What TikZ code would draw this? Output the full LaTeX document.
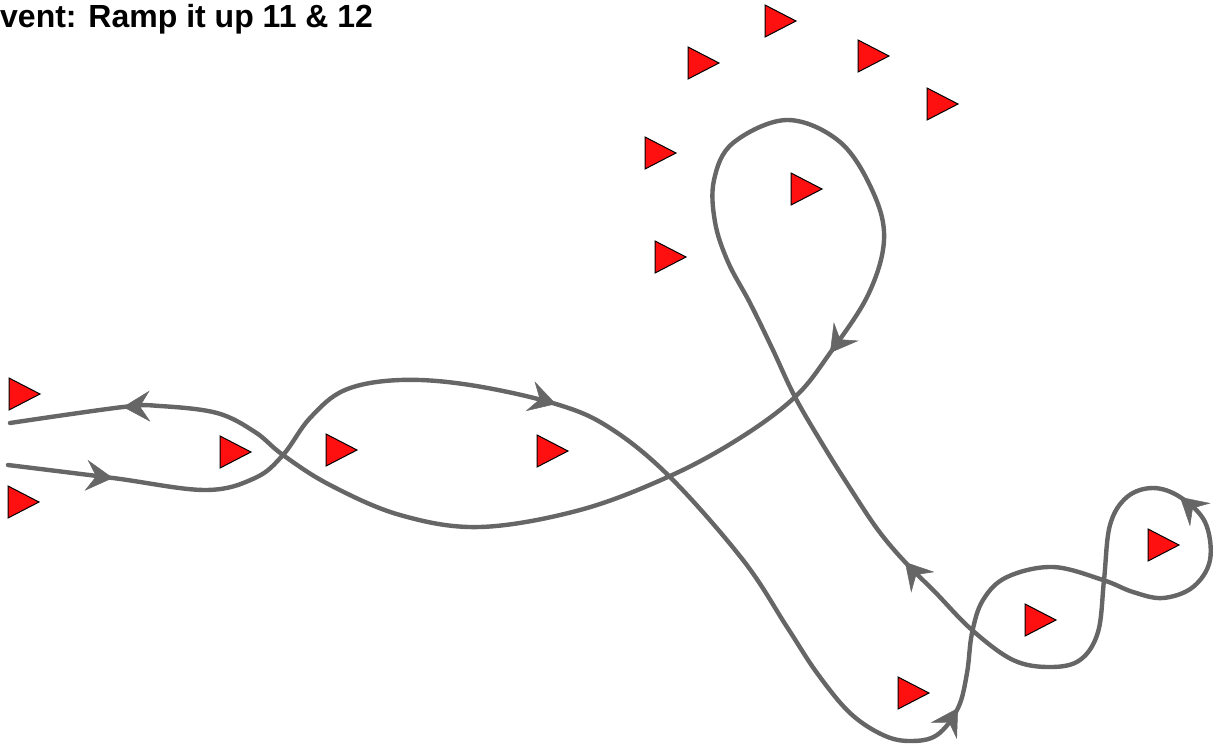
\documentclass[tikz,border=0pt]{standalone}
\usepackage{fontspec}
\setmainfont{Liberation Sans}
\usetikzlibrary{arrows.meta,calc}
\definecolor{route}{HTML}{666666}
\definecolor{flag}{HTML}{FF1010}
\begin{document}
\begin{tikzpicture}[x=1pt,y=-1pt,
  routeline/.style={draw=route,line width=4.4pt,line cap=round,line join=round},
  arrowtip/.style={draw=route,line width=4.4pt,-{Stealth[length=27pt,width=31pt,inset=10pt,line width=0.5pt,fill=route]}},
  marker/.pic={\draw[fill=flag,draw=black,line width=1pt] (0,-16)--(31,0)--(0,16)--cycle;},
  titletext/.style={anchor=base west,inner sep=0pt,font=\bfseries\fontsize{32}{38}\selectfont}
]
\useasboundingbox (0,0) rectangle (1214,747);
\node[titletext] (title) at (0,27) {vent: Ramp it up 11 \& 12};

% markers
\foreach \px/\py in {9/394, 8/502, 220/452, 326/450, 537/451, 765/21, 688/63, 858/56, 927/104, 645/153, 791/189, 655/257, 898/693, 1025/620, 1148/545}
  \pic at (\px,\py) {marker};

% route
\draw[routeline] plot[smooth, tension=0.6] coordinates {
(8,465) (113,478) (205,490) (255,478) (283,455) (310,418) (345,390) (400,380) (470,385) (556,404) (610,428) (670,477) (743,560) (787,627) (817,673) (850,713) (883,735) (910,741) (937,735) (958,708) (967,673) (972,633) (983,600) (1007,577) (1053,567) (1103,580) (1133,592) (1163,598) (1193,587) (1210,560) (1205,522) (1180,497) (1153,488) (1127,497) (1110,525) (1104,580) (1098,632) (1080,660) (1050,667) (1013,660) (972,630) (935,592) (905,562) (878,530) (850,488) (823,445) (795,397) (772,348) (750,303) (728,262) (715,222) (714,180) (733,143) (787,120) (840,142) (873,192) (884,240) (868,295) (830,353) (795,397) (740,438) (670,476) (580,510) (480,527) (400,515) (330,485) (283,455) (255,432) (217,413) (160,406) (123,407) (10,423)
};

% direction arrows
\coordinate (t1) at (113,478);
\coordinate (t2) at (123,407);
\coordinate (t3) at (556,404);
\coordinate (t4) at (958,708);
\coordinate (t5) at (1180,497);
\coordinate (t6) at (905,562);
\coordinate (t7) at (830,353);
\draw[arrowtip] ($(t1)+(-10,-1)$) -- (t1);
\draw[arrowtip] ($(t2)+(10,-0.3)$) -- (t2);
\draw[arrowtip] ($(t3)+(-10,-3)$) -- (t3);
\draw[arrowtip] ($(t4)+(-5.3,8.5)$) -- (t4);
\draw[arrowtip] ($(t5)+(7.5,6.6)$) -- (t5);
\draw[arrowtip] ($(t6)+(6.6,7.5)$) -- (t6);
\draw[arrowtip] ($(t7)+(6,-8)$) -- (t7);
\end{tikzpicture}
\end{document}
